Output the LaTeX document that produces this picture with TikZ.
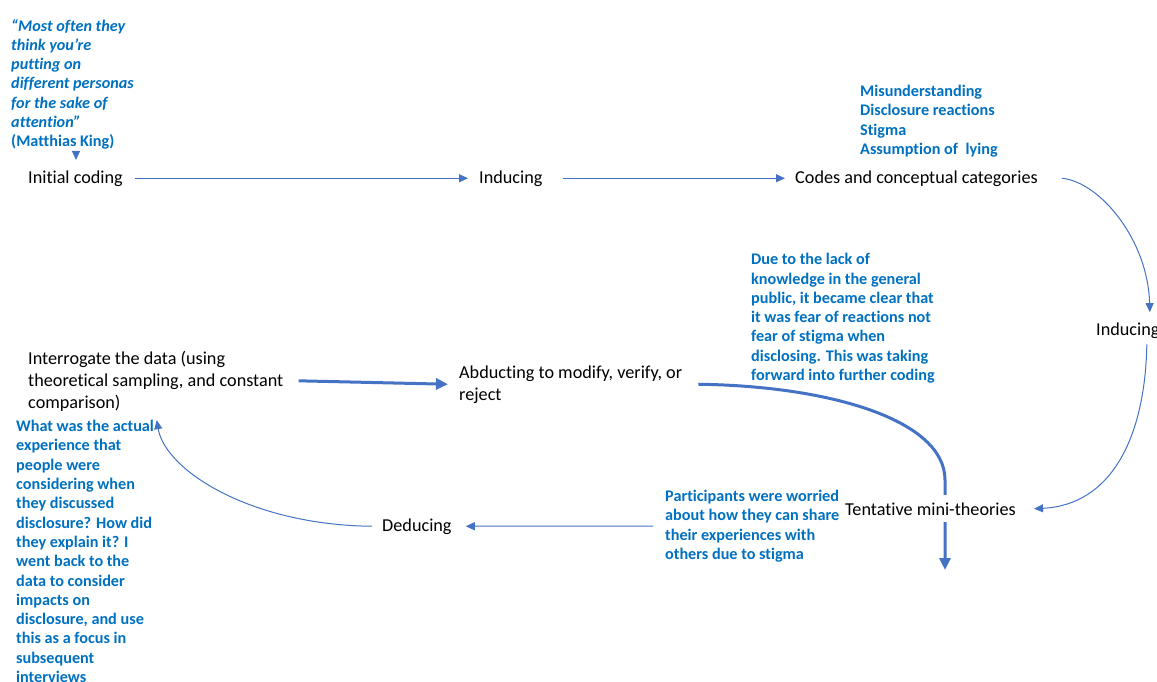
\documentclass[tikz,border=0pt]{standalone}
\usepackage{fontspec}
\setmainfont{Carlito}[Ligatures=NoCommon]
\usetikzlibrary{arrows.meta}
\definecolor{linkblue}{HTML}{4472C4}
\definecolor{notetext}{HTML}{0070C0}
\begin{document}
\begin{tikzpicture}[x=1pt,y=-1pt,
  stage/.style={anchor=base west, inner sep=0pt, align=left,
    font=\fontsize{18.2}{22}\selectfont},
  note/.style={anchor=base west, inner sep=0pt, align=left, text=notetext,
    font=\fontsize{16.2}{19.3}\selectfont\bfseries},
  flow/.style={draw=linkblue, line width=1pt, -{Triangle[length=9pt,width=8pt]}},
  boldflow/.style={draw=linkblue, line width=3pt, -{Triangle[length=12pt,width=11pt]}}]
\useasboundingbox (0,0) rectangle (1157,682);
\clip (0,0) rectangle (1157,682);

% stages of the analysis (positions give the baseline of the last line)
\node[stage] (init) at (28,183) {Initial coding};
\node[stage] (ind1) at (479,183) {Inducing};
\node[stage] (codes) at (795,183) {Codes and conceptual categories};
\node[stage] (ind2) at (1096,335) {Inducing};
\node[stage] (intr) at (28,408) {Interrogate the data (using\\theoretical sampling, and constant\\comparison)};
\node[stage] (abd) at (459,400) {Abducting to modify, verify, or\\reject};
\node[stage] (ded) at (382,531) {Deducing};

% notes
\node[note, font=\fontsize{16.2}{19.2}\selectfont\bfseries\itshape] (quote) at (11,146.5)
  {“Most often they\\think you’re\\putting on\\different personas\\for the sake of\\attention”\\\upshape(Matthias King)};
\node[note] (cats) at (860,154.5) {Misunderstanding\\Disclosure reactions\\Stigma\\Assumption of\hspace{0.25em} lying};
\node[note] (fear) at (751,380.5) {Due to the lack of\\knowledge in the general\\public, it became clear that\\it was fear of reactions not\\fear of stigma when\\disclosing. This was taking\\forward into further coding};
\node[note] (part) at (665,559.5) {Participants were worried\\about how they can share\\their experiences with\\others due to stigma};
\node[note] (what) at (16,682.5) {What was the actual\\experience that\\people were\\considering when\\they discussed\\disclosure? How did\\they explain it? I\\went back to the\\data to consider\\impacts on\\disclosure, and use\\this as a focus in\\subsequent\\interviews};

% thick connector that passes behind the mini-theories label
\coordinate (drop) at (945,570);
\draw[boldflow] ([xshift=16pt]abd.east) .. controls (830,386) and (945,420) .. (945,480) -- (drop);
\node[stage, fill=white, inner xsep=2pt, inner ysep=7pt] (tent) at (843,515) {Tentative mini-theories};

% connectors
\coordinate (qtail) at (76,151);
\coordinate (qtip) at (76,160);
\draw[flow] (qtail) -- (qtip);
\draw[flow] ([xshift=12pt]init.east) -- ([xshift=-11pt]ind1.west);
\draw[flow] ([xshift=20pt]ind1.east) -- ([xshift=-10pt]codes.west);
\draw[flow] ([xshift=24pt]codes.east) .. controls (1100,182) and (1148,240) .. ([xshift=22pt,yshift=10pt]ind2.north);
\draw[flow] ([xshift=19pt,yshift=-6pt]ind2.south) .. controls (1145,440) and (1110,505) .. ([xshift=16pt]tent.east);
\draw[flow] ([xshift=-12pt]part.west) -- ([xshift=14pt]ded.east);
\draw[flow] ([xshift=-10pt]ded.west) .. controls (250,525) and (165,470) .. ([xshift=1pt,yshift=-9pt]intr.south);
\draw[boldflow] ([xshift=15pt]intr.east) -- ([xshift=-11pt]abd.west);
\end{tikzpicture}
\end{document}
